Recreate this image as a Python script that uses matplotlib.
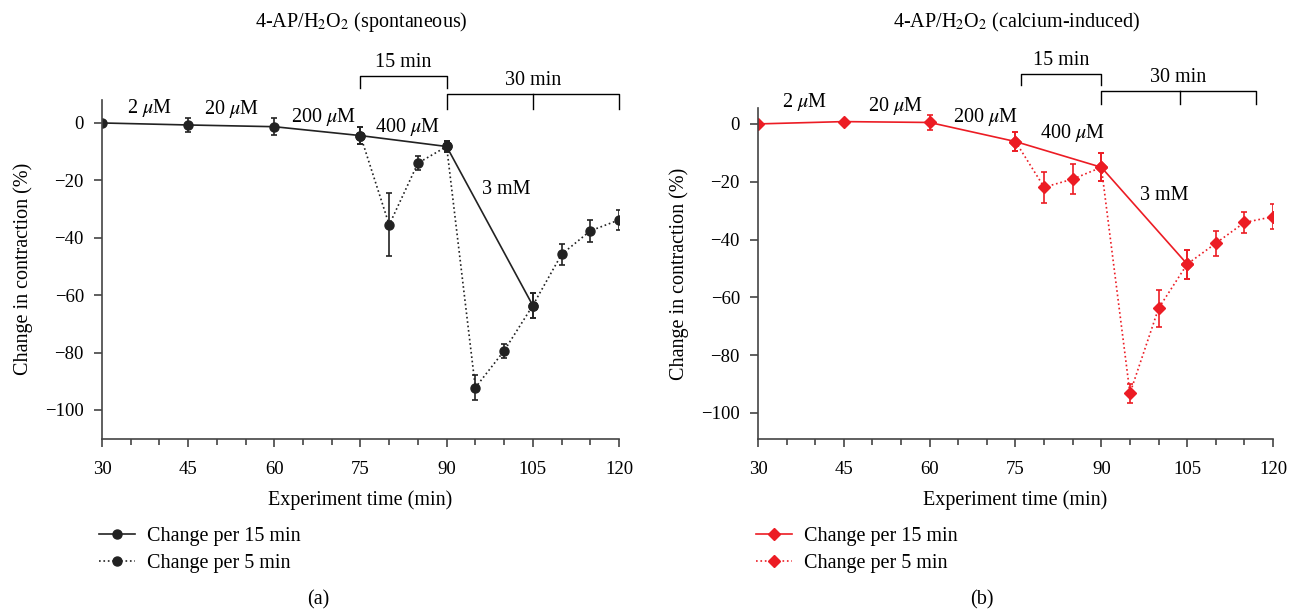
import matplotlib
matplotlib.use("Agg")
from matplotlib import pyplot as plt
from matplotlib.lines import Line2D

plt.rcParams['font.family'] = ['Liberation Serif', 'DejaVu Serif']
plt.rcParams['mathtext.fontset'] = 'stix'

# data
t15 = [30, 45, 60, 75, 90, 105]
t5 = [75, 80, 85, 90, 95, 100, 105, 110, 115, 120]

a15 = [0, -0.7, -1.3, -4.4, -8.2, -63.6]
a15_err = [0, 2.5, 3, 3, 2, 4.3]
a5 = [-4.4, -35.5, -14, -8.2, -92.2, -79.4, -63.6, -45.8, -37.6, -33.8]
a5_err = [3, 11, 2.5, 2, 4.4, 2.5, 4.3, 3.8, 3.7, 3.5]

b15 = [0, 0.8, 0.5, -6.1, -15, -48.5]
b15_err = [0, 0, 2.5, 3.4, 4.8, 5]
b5 = [-6.1, -21.9, -19.1, -15, -93.2, -63.8, -48.5, -41.3, -34.1, -32.1]
b5_err = [3.4, 5.4, 5.3, 4.8, 3.2, 6.4, 5, 4.4, 3.8, 4.3]

conc_labels = ['2 $\\mu$M', '20 $\\mu$M', '200 $\\mu$M', '400 $\\mu$M', '3 mM']
xticks = [30, 45, 60, 75, 90, 105, 120]
yticks = [0, -20, -40, -60, -80, -100]
FS = 14.5


def panel(ax, y15, e15, y5, e5, color, marker, ms, ylim, label_pos, br15, br30, leg_x):
    ax.errorbar(t5, y5, yerr=e5, color=color, ls=':', lw=1.2, marker=marker, ms=ms,
                capsize=2, elinewidth=1.2, capthick=1.2)
    ax.errorbar(t15, y15, yerr=e15, color=color, ls='-', lw=1.2, marker=marker, ms=ms,
                capsize=2, elinewidth=1.2, capthick=1.2)
    ax.set_xlim(30, 120)
    ax.set_ylim(*ylim)
    ax.set_xticks(xticks)
    ax.set_xticks(range(30, 121, 5), minor=True)
    ax.set_yticks(yticks)
    ax.set_yticklabels(['0', '−20', '−40', '−60', '−80', '−100'])
    ax.tick_params(labelsize=13.5, color='#444444', width=1.2, length=6)
    ax.tick_params(axis='x', pad=10)
    ax.tick_params(axis='y', pad=7)
    ax.tick_params(which='minor', color='#444444', width=1.2, length=4)
    for s in ['top', 'right']:
        ax.spines[s].set_visible(False)
    for s in ['left', 'bottom']:
        ax.spines[s].set_color('#444444')
        ax.spines[s].set_linewidth(1.2)
    ax.set_xlabel('Experiment time (min)', fontsize=FS, labelpad=9)
    ax.set_ylabel('Change in contraction (%)', fontsize=FS, labelpad=9)
    for txt, (x, y) in zip(conc_labels, label_pos):
        ax.text(x, y, txt, fontsize=FS, ha='center', va='center')
    # brackets
    kw = dict(color='black', lw=1, clip_on=False)
    x0, x1, ytop, ybot = br15
    ax.plot([x0, x0, x1, x1], [ybot, ytop, ytop, ybot], **kw)
    ax.text((x0 + x1) / 2, ytop + 1.5, '15 min', fontsize=FS, ha='center', va='bottom')
    x0, xm, x1, ytop, ybot = br30
    ax.plot([x0, x0, x1, x1], [ybot, ytop, ytop, ybot], **kw)
    ax.plot([xm, xm], [ytop, ybot], **kw)
    ax.text((x0 + x1) / 2, ytop + 1.5, '30 min', fontsize=FS, ha='center', va='bottom')
    handles = [Line2D([], [], color=color, ls='-', lw=1.2, marker=marker, ms=ms),
               Line2D([], [], color=color, ls=':', lw=1.2, marker=marker, ms=ms)]
    fig.legend(handles, ['Change per 15 min', 'Change per 5 min'], loc='center left',
               bbox_to_anchor=(leg_x, 1 - 550 / 612), frameon=False, fontsize=FS,
               handlelength=1.8, handletextpad=0.6, labelspacing=0.35,
               borderpad=0, borderaxespad=0)


fig = plt.figure(figsize=(12.99, 6.12), dpi=100)
ax1 = fig.add_axes([0.0785, 0.2832, 0.398, 0.5534])
ax2 = fig.add_axes([0.5835, 0.2827, 0.3965, 0.5408])

panel(ax1, a15, a15_err, a5, a5_err, '#222222', 'o', 6.5, (-110, 8),
      [(38.2, 5.2), (52.5, 4.9), (68.6, 2.2), (83.2, -1.4), (100.3, -23.3)],
      (75, 90, 16.4, 12.2), (90, 105, 120, 10, 4.9), 99 / 1299)
panel(ax2, b15, b15_err, b5, b5_err, '#ec1c24', 'D', 6.5, (-109, 5.5),
      [(38.2, 7.6), (54, 6.2), (69.7, 2.4), (84.9, -3), (101, -24.6)],
      (76, 90, 17.2, 13.5), (90, 103.7, 117, 11.4, 6.9), 756 / 1299)

fig.text(361 / 1299, 1 - 22 / 612, '4-AP/H$_2$O$_2$ (spontaneous)', fontsize=FS,
         ha='center', va='center')
fig.text(1017 / 1299, 1 - 22 / 612, '4-AP/H$_2$O$_2$ (calcium-induced)', fontsize=FS,
         ha='center', va='center')
fig.text(318 / 1299, 1 - 600 / 612, '(a)', fontsize=FS, ha='center', va='center')
fig.text(982 / 1299, 1 - 600 / 612, '(b)', fontsize=FS, ha='center', va='center')

fig.savefig('out.png', dpi=100)
